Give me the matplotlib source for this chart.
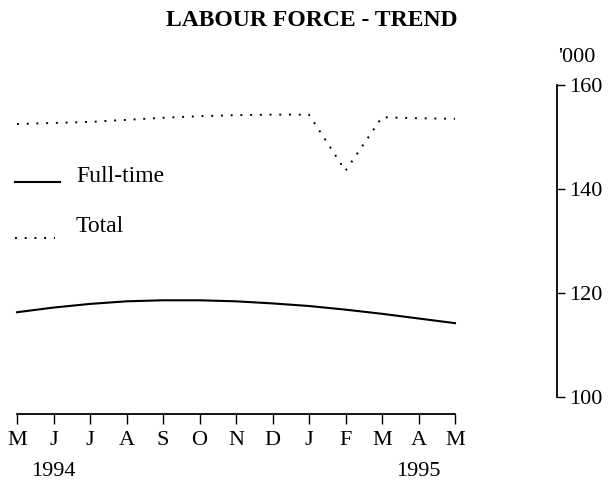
import matplotlib
matplotlib.use("Agg")
import matplotlib.pyplot as plt
from matplotlib.lines import Line2D

months = ["M", "J", "J", "A", "S", "O", "N", "D", "J", "F", "M", "A", "M"]
total = [152.5, 152.7, 152.9, 153.3, 153.7, 154.0, 154.2, 154.3, 154.3, 143.5, 153.8, 153.6, 153.5]
full_time = [116.3, 117.2, 117.9, 118.4, 118.6, 118.6, 118.4, 118.0, 117.5, 116.8, 116.0, 115.1, 114.2]
year_labels = ["1994", "1995"]
yticks = [100, 120, 140, 160]

plt.rcParams['font.family'] = ['Liberation Serif', 'DejaVu Serif']

W, H = 611, 480
fig = plt.figure(figsize=(W / 100, H / 100), dpi=100)
x0, x1 = 17, 557
ytop, ybot = 85, 414
ax = fig.add_axes([x0 / W, (H - ybot) / H, (x1 - x0) / W, (ybot - ytop) / H])

x = list(range(len(months)))
px_per_month = (455 - 17) / 12
xmax = (x1 - x0) / px_per_month
px_per_unit = (397 - 85) / 60
ymin = 160 - (ybot - ytop) / px_per_unit

ax.plot(x, full_time, color="black", lw=1.5, clip_on=False)
ax.plot(x, total, color="black", lw=1.4, linestyle=(0, (1, 4)), clip_on=False)

ax.set_xlim(0, xmax)
ax.set_ylim(ymin, 160)

for s in ["left", "top"]:
    ax.spines[s].set_visible(False)
ax.spines["bottom"].set_bounds(0, 12)
ax.spines["right"].set_bounds(100, 160)
ax.spines["bottom"].set_linewidth(1.3)
ax.spines["right"].set_linewidth(1.3)

ax.set_xticks(x)
ax.set_xticklabels(months, fontsize=16)
ax.tick_params(axis="x", direction="out", length=7, width=1.0, pad=5)

ax.yaxis.tick_right()
ax.set_yticks(yticks)
ax.set_yticklabels([str(v) for v in yticks], fontsize=16)
ax.tick_params(axis="y", direction="out", length=6, width=1.0, pad=3)

ax.text(1, -0.145, year_labels[0], transform=ax.get_xaxis_transform(), ha="center", va="top", fontsize=16)
ax.text(11, -0.145, year_labels[1], transform=ax.get_xaxis_transform(), ha="center", va="top", fontsize=16)

fig.text(577 / W, 1 - 58 / H, "'000", ha="center", va="center", fontsize=16)
fig.text(312 / W, 1 - 21 / H, "LABOUR FORCE - TREND", ha="center", va="center",
         fontsize=17, fontweight="bold")

# legend (manual key)
fig.add_artist(Line2D([15 / W, 60 / W], [1 - 182 / H, 1 - 182 / H], color="black", lw=1.5))
fig.add_artist(Line2D([15 / W, 55 / W], [1 - 238 / H, 1 - 238 / H], color="black", lw=1.4,
                      linestyle=(0, (1, 4))))
fig.text(76 / W, 1 - 176 / H, "Full-time", ha="left", va="center", fontsize=17)
fig.text(76 / W, 1 - 227 / H, "Total", ha="left", va="center", fontsize=17)

fig.savefig("out.png", dpi=100, facecolor="white")
